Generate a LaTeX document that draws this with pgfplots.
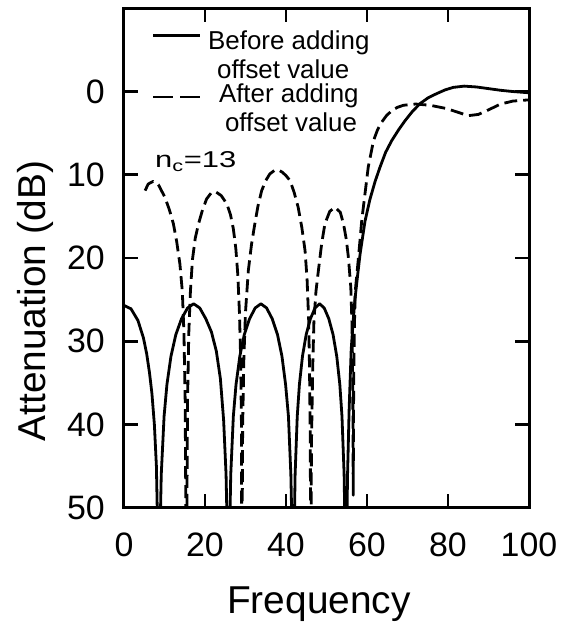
\documentclass[border=0pt]{standalone}
\usepackage{pgfplots}
\pgfplotsset{compat=1.18}
\usepackage{fontspec}
\setmainfont{Liberation Sans}
\begin{document}
\begin{tikzpicture}
\path[use as bounding box] (-124bp,-117.3bp) rectangle (446bp,507.7bp);
\begin{axis}[
  at={(0bp,0bp)}, anchor=south west,
  scale only axis, width=405bp, height=499.4bp,
  xmin=0, xmax=100, ymin=-10, ymax=50, y dir=reverse,
  xtick={0,20,...,100}, ytick={0,10,...,50},
  tick align=inside, major tick length=14bp,
  axis line style={line width=3bp},
  tick style={line width=2.8bp, black},
  /pgf/number format/assume math mode=true,
  ticklabel style={font=\fontsize{34}{38}\selectfont},
  xticklabel style={inner sep=0pt, anchor=north, yshift=-25bp},
  yticklabel style={inner sep=0pt, anchor=east, xshift=-19bp},
  xlabel={Frequency}, ylabel={Attenuation (dB)},
  label style={font=\fontsize{39}{43}\selectfont},
  xlabel style={at={(axis description cs:0.4815,-0.2115)}, anchor=base},
  ylabel style={at={(axis description cs:-0.195,0.414)}, anchor=base},
  legend style={at={(axis description cs:0.0716,0.9545)}, anchor=north west,
    draw=none, fill=none, inner sep=0pt, row sep=3bp, column sep=8bp,
    font=\fontsize{26}{29}\selectfont, cells={align=left},
    nodes={inner sep=0pt}},
]
\addplot[black, line width=2.8bp, line join=round,
  legend image code/.code={\path[draw=none] (0bp,0bp) -- (47bp,0bp); \draw[overlay, black, line width=2.8bp, solid] (0bp,20bp) -- (47bp,20bp);}] coordinates {
(0,25.7) (1.72,26.1) (3.44,27.5) (4.8,29.6) (5.6,31.5) (6.3,33.8) (6.9,36.3) (7.5,40) (8.0,45) (8.6,60)
(9.2,46) (9.9,39) (10.6,35.2) (11.6,31.8) (12.8,29.2) (14.2,27.3) (15.7,26.0) (17.2,25.5) (18.7,26.0) (20.2,27.3) (21.6,28.9) (22.8,31.2) (23.8,34.5) (24.6,39.5) (25.2,46) (25.8,60)
(26.36,46) (27.0,39) (27.66,35.2) (28.6,31.8) (29.7,29.2) (31.0,27.3) (32.4,26.0) (33.8,25.5) (35.2,26.0) (36.6,27.3) (37.9,29.2) (39.0,31.8) (39.9,35.2) (40.6,39) (41.2,46) (41.8,60)
(42.25,46) (42.78,39) (43.31,35.2) (44.07,31.8) (44.98,29.2) (46.03,27.3) (47.17,26.0) (48.3,25.5) (49.43,26.0) (50.57,27.3) (51.62,29.2) (52.53,31.8) (53.29,35.2) (53.82,39) (54.35,46) (54.8,60)
(55.2,46) (55.6,38) (56.1,31) (56.6,27.5) (57.0,25.1) (57.7,22) (58.3,19.5) (59.5,15.6) (60.7,13.0) (62.0,10.8) (63.2,9.1) (64.6,7.3) (66.1,5.9) (67.8,4.6) (69.4,3.5) (71.2,2.4) (73.1,1.45) (75.1,0.75) (77.2,0.25) (79.3,-0.2) (81.3,-0.5) (84,-0.65) (87,-0.55) (90,-0.35) (93,-0.15) (96,0) (100,0.15)
};
\addlegendentry{Before adding\\\hspace*{9bp}offset value}
\addplot[black, line width=2.8bp, line join=round, dash pattern=on 13bp off 6bp,
  legend image code/.code={\path[draw=none] (0bp,0bp) -- (47bp,0bp); \draw[overlay, black, line width=2.8bp, dash pattern=on 20bp off 7bp] (0bp,11bp) -- (47bp,11bp);}] coordinates {
(5.2,11.9) (6.0,11.1) (7.2,10.8) (8.5,11.2) (10.1,12.7) (11.2,14.2) (12.2,15.9) (13.0,18) (13.8,20.7) (14.4,24) (14.8,29) (15.1,37) (15.4,60)
(15.7,37) (16.0,29) (16.4,24) (16.9,20.2) (17.6,17.6) (18.4,15.9) (19.4,14.2) (20.4,12.9) (21.5,12.2) (22.5,12.0) (24.0,12.5) (25.4,13.5) (26.3,14.8) (27.0,16.5) (27.6,18.8) (28.1,22) (28.5,26.5) (28.8,32) (29.0,40) (29.1,60)
(29.3,40) (29.6,32) (30.0,26.5) (30.7,21.5) (31.5,18.3) (32.3,15.9) (33.1,13.7) (34,11.9) (35,10.7) (36,9.9) (37.1,9.5) (38.1,9.4) (39.1,9.7) (40.0,10.1) (41,10.7) (42,12.1) (43,13.9) (43.9,16.3) (44.7,19.1) (45.2,22.5) (45.6,27.5) (45.8,33) (46.0,42) (46.1,60)
(46.3,42) (46.6,33) (46.9,27.5) (47.4,24) (48,21.5) (48.8,18.3) (49.6,15.9) (50.8,14.4) (52.1,13.9) (53.4,14.5) (54.2,15.9) (54.9,17.8) (55.4,19.9) (56.0,23.5) (56.3,28) (56.5,36) (56.6,48.5) (56.7,36) (56.85,29) (57.1,24) (57.9,19.9) (58.7,15.5) (59.5,12.3) (60.3,9.1) (61.6,5.9) (62.6,4.6) (63.6,3.7) (64.8,2.9) (66.1,2.3) (67.5,1.9) (69,1.65) (72,1.5) (75.6,1.65) (79.7,2.05) (82.5,2.5) (85,2.9) (87.5,2.75) (90,2.2) (93,1.5) (96,1.15) (100,1.0)
};
\addlegendentry{After adding\\\hspace*{6bp}offset value}
\node[anchor=base west, font=\fontsize{23}{27}\selectfont, inner sep=0pt] at (axis cs:7.65,9.16) {\scalebox{1.35}[1]{n\textsubscript{c}=13}};
\end{axis}
\end{tikzpicture}
\end{document}
